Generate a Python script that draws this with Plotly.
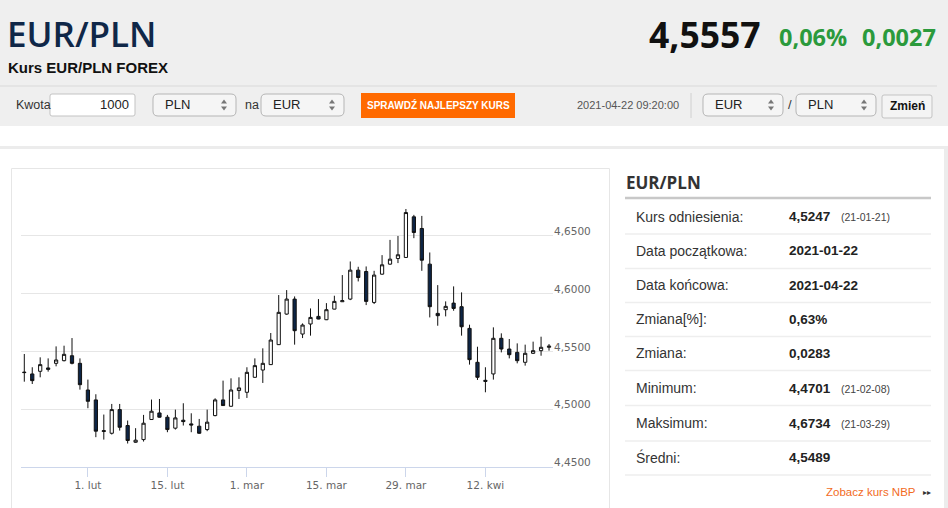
import pandas as pd
import plotly.graph_objects as go

W, H = 948, 508

# EUR/PLN daily candles
dates = [d.strftime("%Y-%m-%d") for d in pd.bdate_range("2021-01-20", "2021-04-22")]
opens = [4.5320, 4.5304, 4.5327, 4.5356, 4.5396, 4.5419, 4.5462, 4.5396, 4.5165, 4.5079,
         4.4805, 4.4790, 4.4995, 4.4857, 4.4712, 4.4735, 4.4909, 4.4966, 4.4929, 4.4834,
         4.4903, 4.4871, 4.4851, 4.4822, 4.4943, 4.5079, 4.5024, 4.5160, 4.5145, 4.5275,
         4.5338, 4.5385, 4.5558, 4.5823, 4.5953, 4.5650, 4.5737, 4.5803, 4.5774, 4.5866,
         4.5930, 4.5953, 4.6204, 4.6192, 4.5924, 4.6169, 4.6256, 4.6305, 4.6314, 4.6666,
         4.6565, 4.6256, 4.5829, 4.5861, 4.5918, 4.5887, 4.5699, 4.5405, 4.5249, 4.5304,
         4.5613, 4.5520, 4.5491, 4.5405, 4.5483, 4.5506, 4.5535]
highs = [4.5477, 4.5362, 4.5448, 4.5439, 4.5543, 4.5549, 4.5615, 4.5439, 4.5255, 4.5128,
         4.4952, 4.5044, 4.5044, 4.4900, 4.4834, 4.4949, 4.5082, 4.5087, 4.4949, 4.4995,
         4.5050, 4.4963, 4.4914, 4.4995, 4.5093, 4.5246, 4.5266, 4.5275, 4.5362, 4.5439,
         4.5526, 4.5659, 4.5988, 4.6031, 4.5976, 4.5742, 4.5872, 4.5953, 4.5918, 4.5982,
         4.6161, 4.6279, 4.6233, 4.6236, 4.6198, 4.6334, 4.6466, 4.6500, 4.6734, 4.6683,
         4.6674, 4.6357, 4.6074, 4.5933, 4.6063, 4.6011, 4.5731, 4.5540, 4.5362, 4.5708,
         4.5656, 4.5607, 4.5569, 4.5558, 4.5584, 4.5627, 4.5563]
lows = [4.5237, 4.5217, 4.5275, 4.5324, 4.5370, 4.5413, 4.5387, 4.5168, 4.5007, 4.4756,
        4.4735, 4.4779, 4.4813, 4.4701, 4.4707, 4.4718, 4.4905, 4.4925, 4.4799, 4.4822,
        4.4857, 4.4799, 4.4785, 4.4808, 4.4937, 4.5028, 4.5020, 4.5087, 4.5096, 4.5272,
        4.5226, 4.5382, 4.5555, 4.5817, 4.5558, 4.5615, 4.5636, 4.5778, 4.5771, 4.5864,
        4.5928, 4.5944, 4.6106, 4.5901, 4.5910, 4.6164, 4.6250, 4.6265, 4.6312, 4.6481,
        4.6198, 4.5794, 4.5722, 4.5803, 4.5852, 4.5636, 4.5385, 4.5252, 4.5145, 4.5255,
        4.5491, 4.5439, 4.5396, 4.5376, 4.5477, 4.5462, 4.5506]
closes = [4.5316, 4.5246, 4.5385, 4.5344, 4.5425, 4.5474, 4.5396, 4.5211, 4.5067, 4.4808,
          4.4812, 4.4995, 4.4842, 4.4727, 4.4730, 4.4877, 4.4981, 4.4929, 4.4822, 4.4923,
          4.4891, 4.4862, 4.4790, 4.4886, 4.5079, 4.5030, 4.5165, 4.5183, 4.5318, 4.5376,
          4.5396, 4.5598, 4.5838, 4.5953, 4.5679, 4.5728, 4.5794, 4.5780, 4.5861, 4.5933,
          4.5939, 4.6204, 4.6140, 4.5933, 4.6161, 4.6250, 4.6299, 4.6337, 4.6703, 4.6530,
          4.6290, 4.5887, 4.5809, 4.5890, 4.5872, 4.5713, 4.5428, 4.5275, 4.5240, 4.5613,
          4.5520, 4.5471, 4.5419, 4.5483, 4.5506, 4.5535, 4.5545]

# axis ticks
x_tick_dates = ["2021-02-01", "2021-02-15", "2021-03-01", "2021-03-15", "2021-03-29", "2021-04-12"]
x_tick_text = ["1. lut", "15. lut", "1. mar", "15. mar", "29. mar", "12. kwi"]
y_ticks = [4.45, 4.50, 4.55, 4.60, 4.65, 4.70]
y_tick_text = ["4,4500", "4,5000", "4,5500", "4,6000", "4,6500", ""]

# side table
row_labels = ["Kurs odniesienia:", "Data początkowa:", "Data końcowa:", "Zmiana[%]:",
              "Zmiana:", "Minimum:", "Maksimum:", "Średni:"]
row_values = ["4,5247", "2021-01-22", "2021-04-22", "0,63%", "0,0283", "4,4701", "4,6734", "4,5489"]
row_dates = ["(21-01-21)", "", "", "", "", "(21-02-08)", "(21-03-29)", ""]

NAVY = "#0f2748"
ARIAL = "Liberation Sans"
OPEN = "Open Sans"


def fx(x):
    return x / W


def fy(y):
    return 1 - y / H


shapes = []
annotations = []


def rect(x0, y0, x1, y1, fill=None, line=None, lw=1):
    shapes.append(dict(type="rect", xref="paper", yref="paper", layer="below",
                       x0=fx(x0), x1=fx(x1), y0=fy(y1), y1=fy(y0),
                       fillcolor=fill or "rgba(0,0,0,0)",
                       line=dict(color=line or "rgba(0,0,0,0)", width=lw if line else 0)))


def hline(x0, x1, y, color, lw=1):
    shapes.append(dict(type="line", xref="paper", yref="paper", layer="below",
                       x0=fx(x0), x1=fx(x1), y0=fy(y), y1=fy(y), line=dict(color=color, width=lw)))


def vline(x, y0, y1, color, lw=1):
    shapes.append(dict(type="line", xref="paper", yref="paper", layer="below",
                       x0=fx(x), x1=fx(x), y0=fy(y0), y1=fy(y1), line=dict(color=color, width=lw)))


def rrect(x0, y0, x1, y1, r, fill, line):
    p = lambda x, y: "%.5f,%.5f" % (fx(x), fy(y))
    path = ("M" + p(x0 + r, y0) + " L" + p(x1 - r, y0) + " Q" + p(x1, y0) + " " + p(x1, y0 + r) +
            " L" + p(x1, y1 - r) + " Q" + p(x1, y1) + " " + p(x1 - r, y1) +
            " L" + p(x0 + r, y1) + " Q" + p(x0, y1) + " " + p(x0, y1 - r) +
            " L" + p(x0, y0 + r) + " Q" + p(x0, y0) + " " + p(x0 + r, y0) + " Z")
    shapes.append(dict(type="path", xref="paper", yref="paper", layer="below", path=path,
                       fillcolor=fill, line=dict(color=line, width=1)))


def arrows(cx, cy):
    p = lambda x, y: "%.5f,%.5f" % (fx(x), fy(y))
    up = "M" + p(cx - 3, cy - 1.5) + " L" + p(cx + 3, cy - 1.5) + " L" + p(cx, cy - 5.5) + " Z"
    dn = "M" + p(cx - 3, cy + 1.5) + " L" + p(cx + 3, cy + 1.5) + " L" + p(cx, cy + 5.5) + " Z"
    for d in (up, dn):
        shapes.append(dict(type="path", xref="paper", yref="paper", path=d,
                           fillcolor="#777", line=dict(width=0)))


def text(x, y, s, size, color="#333", anchor="left", family=ARIAL, weight="normal"):
    annotations.append(dict(x=fx(x), y=fy(y), xref="paper", yref="paper", text=s,
                            showarrow=False, xanchor=anchor, yanchor="middle",
                            font=dict(family=family, size=size, color=color, weight=weight)))


def select(x0, x1, label):
    rrect(x0, 94, x1, 116, 5, "#f5f5f5", "#b5b5b5")
    text(x0 + 10, 105, label, 13, "#222")
    arrows(x1 - 12, 105)


# page background pieces
rect(0, 0, W, 126, fill="#efefef")
hline(0, 937, 86, "#d9d9d9")
rect(0, 146, W, 149, fill="#ececec")
rect(944, 146, W, H, fill="#ececec")
rect(11.5, 168.5, 609.5, H + 5, line="#e6e6e6")

# header texts
text(5, 33, "EUR/PLN", 35, NAVY, family=OPEN, weight=600)
text(6, 68, "Kurs EUR/PLN FOREX", 15, "#111", weight="bold")
text(763, 34, "4,5557", 35.5, "#111", anchor="right", family=OPEN, weight="bold")
text(777, 37, "0,06%", 23.5, "#2b9a3c", family=OPEN, weight="bold")
text(860, 37, "0,0027", 23.5, "#2b9a3c", family=OPEN, weight="bold")

# converter row
text(14, 105, "Kwota", 12.5, "#333")
rrect(50, 94, 135, 116, 2, "#ffffff", "#c3c3c3")
text(131, 105, "1000", 13, "#222", anchor="right")
select(153, 236, "PLN")
text(243, 105, "na", 12.5, "#333")
select(261, 344, "EUR")
rect(361, 93, 515, 118, fill="#ff6a00")
text(438, 105.5, "SPRAWDŹ NAJLEPSZY KURS", 10, "#ffffff", anchor="center", weight="bold")
text(681, 105, "2021-04-22 09:20:00", 11, "#555", anchor="right")
vline(691, 93, 118, "#d0d0d0")
select(703, 783, "EUR")
text(790, 105, "/", 13, "#333", anchor="center")
select(796, 876, "PLN")
rrect(882, 95, 932, 118, 2, "#f4f4f4", "#c3c3c3")
text(907, 106.5, "Zmień", 12, "#111", anchor="center", weight="bold")

# side table
text(624, 182, "EUR/PLN", 17, "#333", family=OPEN, weight="bold")
hline(625, 931, 198, "#c8c8c8", 2.5)
row_y = [216.5, 250.5, 285, 319, 353, 388, 423, 457.5]
sep_y = [234, 268.5, 302.5, 336.5, 370.5, 405.5, 441, 475]
for i in range(len(row_labels)):
    text(634, row_y[i], row_labels[i], 14, "#333")
    text(787, row_y[i], row_values[i], 13.5, "#222", weight="bold")
    if row_dates[i]:
        text(839, row_y[i] + 0.5, row_dates[i], 10.5, "#444")
    hline(625, 931, sep_y[i], "#eeeeee", 1.5)
text(918, 492, "Zobacz kurs NBP", 11.5, "#f26b1d", anchor="right")
text(921, 492, "▸▸", 8, "#333")

fig = go.Figure(go.Candlestick(
    x=dates, open=opens, high=highs, low=lows, close=closes,
    increasing=dict(line=dict(color="#111111", width=1), fillcolor="#ffffff"),
    decreasing=dict(line=dict(color="#111111", width=1), fillcolor="#0d2546"),
    hoverinfo="skip",
))

fig.update_layout(
    width=W, height=H,
    margin=dict(l=0, r=0, t=0, b=0),
    paper_bgcolor="#ffffff", plot_bgcolor="#ffffff",
    showlegend=False,
    boxgap=0.42,
    shapes=shapes,
    annotations=annotations,
    xaxis=dict(
        type="category",
        domain=[fx(21), fx(553)],
        range=[-0.415, 66.5],
        rangeslider=dict(visible=False),
        tickvals=x_tick_dates, ticktext=x_tick_text,
        ticks="outside", ticklen=9, tickcolor="#ccd6eb", tickwidth=1,
        showline=True, linecolor="#ccd6eb", linewidth=1,
        showgrid=False, zeroline=False,
        tickfont=dict(family="DejaVu Sans", size=10.5, color="#666666"),
    ),
    yaxis=dict(
        domain=[fy(466.7), fy(178.3)],
        range=[4.45, 4.70],
        side="right",
        tickvals=y_ticks, ticktext=y_tick_text,
        ticklabelposition="outside top",
        ticklabelshift=3,
        showgrid=True, gridcolor="#e6e6e6", gridwidth=1,
        zeroline=False, showline=False, ticks="",
        tickfont=dict(family="DejaVu Sans", size=10.5, color="#666666"),
    ),
)

# page body has a default margin, drop it so the figure sits at 0,0
fig.write_html("out.html", config={"displayModeBar": False},
               post_script="document.body.style.margin='0';")
